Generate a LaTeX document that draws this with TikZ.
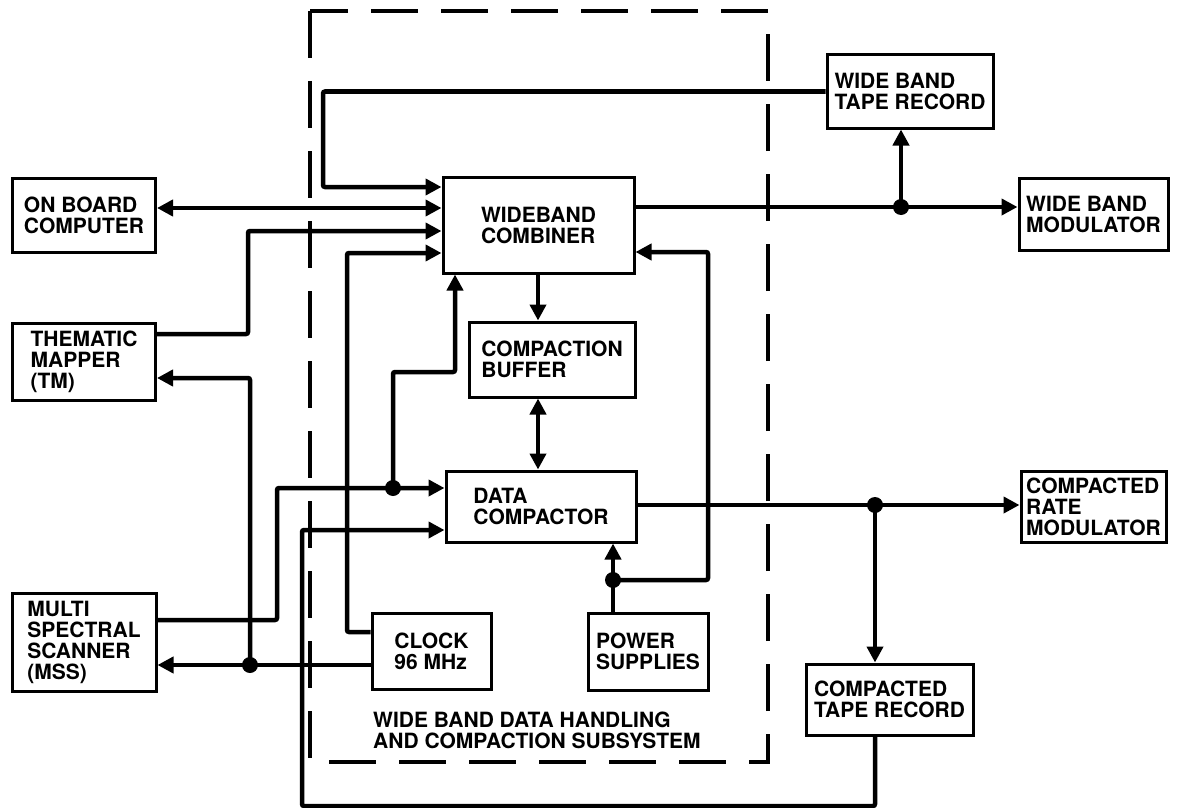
\documentclass[tikz,border=0pt]{standalone}
\usepackage{fontspec}
\setmainfont{TeX Gyre Heros}
\usepackage{tikz}
\usetikzlibrary{arrows.meta}

\begin{document}
\begin{tikzpicture}[x=1pt, y=-1pt,
    >={Triangle[length=16pt, width=16pt]},
    every node/.style={font=\fontsize{21}{21}\selectfont\bfseries},
    blk/.style={draw, line width=3pt, align=left, inner sep=0pt},
    wire/.style={line width=4.5pt, rounded corners=2pt}]
  \useasboundingbox (0,0) rectangle (1181,808);

  % subsystem boundary
  \draw[line width=3.5pt, dash pattern=on 47pt off 23pt] (310,11) rectangle (768,762);
  \node[anchor=west, align=left, inner sep=0pt] (sub) at (373,730) {WIDE BAND DATA HANDLING\\AND COMPACTION SUBSYSTEM};

  % sensors / computer
  \node[blk, minimum width=143pt, minimum height=74pt] (obc) at (84,215) {ON BOARD\\COMPUTER};
  \node[blk, minimum width=143pt, minimum height=77pt] (tm) at (84,361.5) {THEMATIC\\MAPPER\\(TM)};
  \node[blk, minimum width=144pt, minimum height=98pt] (mss) at (84,642) {MULTI\\SPECTRAL\\SCANNER\\(MSS)};

  % inside the subsystem
  \node[blk, minimum width=191pt, minimum height=96pt] (comb) at (538.5,225) {WIDEBAND\\COMBINER};
  \node[blk, minimum width=166pt, minimum height=75pt] (buf) at (552,359.5) {COMPACTION\\BUFFER};
  \node[blk, minimum width=190pt, minimum height=71pt] (dc) at (541,506.5) {DATA\\COMPACTOR};
  \node[blk, minimum width=119pt, minimum height=76pt] (clk) at (431.5,651) {CLOCK\\96 MHz};
  \node[blk, minimum width=120pt, minimum height=77pt] (ps) at (648,651.5) {POWER\\SUPPLIES};

  % outputs
  \node[blk, minimum width=166pt, minimum height=73pt] (wbtr) at (910,91.5) {WIDE BAND\\TAPE RECORD};
  \node[blk, minimum width=149pt, minimum height=72pt] (wbm) at (1093.5,214) {WIDE BAND\\MODULATOR};
  \node[blk, minimum width=145pt, minimum height=71pt] (crm) at (1093.5,506.5) {COMPACTED\\RATE\\MODULATOR};
  \node[blk, minimum width=167pt, minimum height=71pt] (ctr) at (889.5,699.5) {COMPACTED\\TAPE RECORD};

  % junctions
  \coordinate (jc) at (250,665);
  \coordinate (jm) at (393,488);
  \coordinate (jw) at (901,207);
  \coordinate (jp) at (613,580);
  \coordinate (jd) at (875,505);

  % into the combiner
  \draw[wire, ->] (wbtr.west) -| (323,187) -- (comb.west |- 0,187);
  \draw[wire, <->] (obc.east |- 0,208) -- (comb.west |- 0,208);
  \draw[wire, ->] (tm.east |- 0,334) -| (248,231) -- (comb.west |- 0,231);
  \draw[wire, ->] (clk.west |- 0,632) -| (347,253) -- (comb.west |- 0,253);
  \draw[wire, ->] (jm) |- (455,372) -- (comb.south -| 455,0);
  \draw[wire, ->] (jp) -| (708,252) -- (comb.east |- 0,252);

  % clock to scanners
  \draw[wire, ->] (clk.west |- jc) -- (mss.east |- jc);
  \draw[wire, ->] (jc) |- (tm.east |- 0,378);

  % into the compactor
  \draw[wire, ->] (mss.east |- 0,620) -| (277,488) -- (dc.west |- jm);
  \draw[wire, ->] (ctr.south -| jd) |- (302,806) |- (dc.west |- 0,530);
  \draw[wire, ->] (comb.south -| 538,0) -- (buf.north -| 538,0);
  \draw[wire, <->] (buf.south -| 538,0) -- (dc.north -| 538,0);
  \draw[wire, ->] (ps.north -| jp) -- (dc.south -| jp);

  % outputs
  \draw[wire, ->] (comb.east |- jw) -- (wbm.west |- jw);
  \draw[wire, ->] (jw) -- (wbtr.south -| jw);
  \draw[wire, ->] (dc.east |- jd) -- (crm.west |- jd);
  \draw[wire, ->] (jd) -- (ctr.north -| jd);

  \foreach \j in {jc,jm,jw,jp,jd} \fill (\j) circle (8pt);
\end{tikzpicture}
\end{document}
